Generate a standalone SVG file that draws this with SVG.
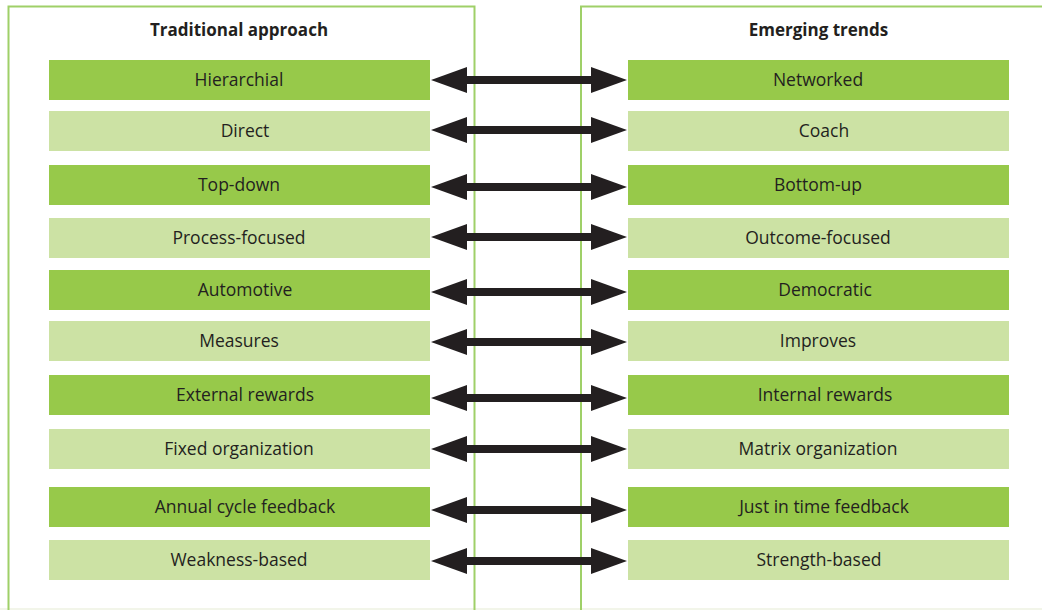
<svg xmlns="http://www.w3.org/2000/svg" width="1042" height="610" viewBox="0 0 1042 610">
<style>
.panel{fill:none;stroke:#9fd068;stroke-width:2}
.dk{fill:#97c94a}
.lt{fill:#cce2a4}
.t{font-family:"Open Sans","Noto Sans",sans-serif;font-size:17.5px;font-weight:500;fill:#231f20;text-anchor:middle}
.h{font-family:"Open Sans","Noto Sans",sans-serif;font-size:17px;font-weight:bold;fill:#231f20;text-anchor:middle}
.ar{stroke:#231f20;stroke-width:8;marker-start:url(#ah);marker-end:url(#ah)}
</style>
<defs>
<marker id="ah" viewBox="0 0 36 26" refX="1" refY="13" markerWidth="36" markerHeight="26" markerUnits="userSpaceOnUse" orient="auto-start-reverse">
<path d="M0,0 L36,13 L0,26 Z" fill="#231f20"/>
</marker>
</defs>
<rect width="1042" height="610" fill="#fff"/>
<line x1="0" y1="609" x2="1042" y2="609" stroke="#eef2e2" stroke-width="1.5"/>
<g id="panel-left">
<path class="panel" d="M8.5,612 V6.5 H474.5 V612"/>
<text class="h" x="239" y="35.5">Traditional approach</text>
</g>
<g id="panel-right">
<path class="panel" d="M581,612 V6.5 H1044"/>
<text class="h" x="818.5" y="35.5">Emerging trends</text>
</g>
<g id="connectors">
<line class="ar" x1="466" y1="80" x2="592" y2="80"/>
<line class="ar" x1="466" y1="130" x2="592" y2="130"/>
<line class="ar" x1="466" y1="187" x2="592" y2="187"/>
<line class="ar" x1="466" y1="237" x2="592" y2="237"/>
<line class="ar" x1="466" y1="292" x2="592" y2="292"/>
<line class="ar" x1="466" y1="342" x2="592" y2="342"/>
<line class="ar" x1="466" y1="398" x2="592" y2="398"/>
<line class="ar" x1="466" y1="449" x2="592" y2="449"/>
<line class="ar" x1="466" y1="510" x2="592" y2="510"/>
<line class="ar" x1="466" y1="561" x2="592" y2="561"/>
</g>
<g id="l1"><rect class="dk" x="49" y="60" width="381" height="40"/><text class="t" x="239" y="86">Hierarchial</text></g>
<g id="l2"><rect class="lt" x="49" y="111" width="381" height="40"/><text class="t" x="245" y="137">Direct</text></g>
<g id="l3"><rect class="dk" x="49" y="165" width="381" height="40"/><text class="t" x="239" y="191">Top-down</text></g>
<g id="l4"><rect class="lt" x="49" y="218" width="381" height="40"/><text class="t" x="239" y="244">Process-focused</text></g>
<g id="l5"><rect class="dk" x="49" y="270" width="381" height="40"/><text class="t" x="245" y="296">Automotive</text></g>
<g id="l6"><rect class="lt" x="49" y="321" width="381" height="40"/><text class="t" x="239" y="347">Measures</text></g>
<g id="l7"><rect class="dk" x="49" y="375" width="381" height="40"/><text class="t" x="245" y="401">External rewards</text></g>
<g id="l8"><rect class="lt" x="49" y="429" width="381" height="40"/><text class="t" x="239" y="455">Fixed organization</text></g>
<g id="l9"><rect class="dk" x="49" y="487" width="381" height="40"/><text class="t" x="245" y="513">Annual cycle feedback</text></g>
<g id="l10"><rect class="lt" x="49" y="540" width="381" height="40"/><text class="t" x="239" y="566">Weakness-based</text></g>
<g id="r1"><rect class="dk" x="628" y="60" width="381" height="40"/><text class="t" x="818" y="86">Networked</text></g>
<g id="r2"><rect class="lt" x="628" y="111" width="381" height="40"/><text class="t" x="824" y="137">Coach</text></g>
<g id="r3"><rect class="dk" x="628" y="165" width="381" height="40"/><text class="t" x="818" y="191">Bottom-up</text></g>
<g id="r4"><rect class="lt" x="628" y="218" width="381" height="40"/><text class="t" x="818" y="244">Outcome-focused</text></g>
<g id="r5"><rect class="dk" x="628" y="270" width="381" height="40"/><text class="t" x="825" y="296">Democratic</text></g>
<g id="r6"><rect class="lt" x="628" y="321" width="381" height="40"/><text class="t" x="818" y="347">Improves</text></g>
<g id="r7"><rect class="dk" x="628" y="375" width="381" height="40"/><text class="t" x="825" y="401">Internal rewards</text></g>
<g id="r8"><rect class="lt" x="628" y="429" width="381" height="40"/><text class="t" x="818" y="455">Matrix organization</text></g>
<g id="r9"><rect class="dk" x="628" y="487" width="381" height="40"/><text class="t" x="824" y="513">Just in time feedback</text></g>
<g id="r10"><rect class="lt" x="628" y="540" width="381" height="40"/><text class="t" x="819" y="566">Strength-based</text></g>
</svg>
